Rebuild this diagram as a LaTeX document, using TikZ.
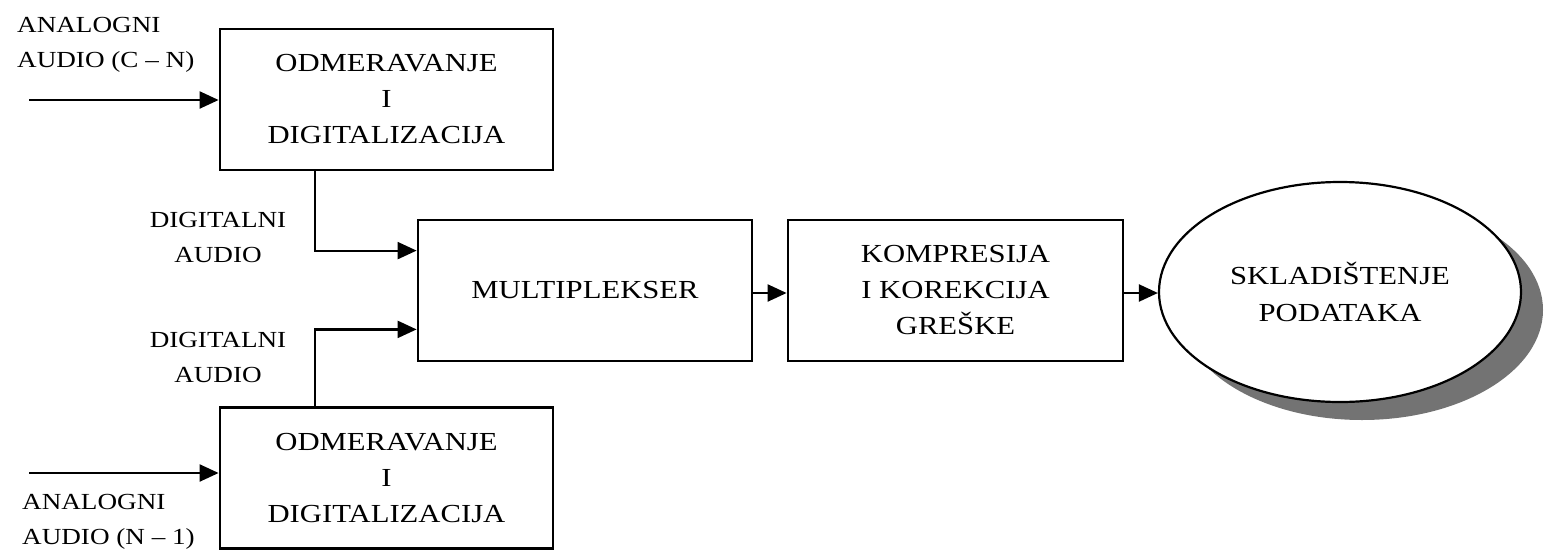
\documentclass[tikz,border=0pt]{standalone}
\usepackage{fontspec}
\setmainfont{Liberation Serif}[FakeStretch=1.18]
\usetikzlibrary{arrows.meta,shapes.geometric,shadows,calc}
\begin{document}
\begin{tikzpicture}[x=1pt,y=-1pt,
  box/.style={draw=black,line width=2.8pt,rectangle,minimum width=333pt,minimum height=141pt,inner sep=0pt,align=center,font=\fontsize{26}{36}\selectfont},
  lbl/.style={inner sep=0pt,font=\fontsize{23}{35}\selectfont},
  arr/.style={draw=black,line width=2.2pt,-{Triangle[length=19pt,width=17pt]}}]
\useasboundingbox (0,0) rectangle (1556,555);
\node[box] (t1) at (386.5,99.5) {ODMERAVANJE\\I\\DIGITALIZACIJA};
\node[box] (t2) at (386.5,478) {ODMERAVANJE\\I\\DIGITALIZACIJA};
\node[box,minimum width=334pt] (mux) at (585,290.5) {MULTIPLEKSER};
\node[box,minimum width=335pt] (komp) at (955.5,290.5) {KOMPRESIJA\\I KOREKCIJA\\GREŠKE};
\node[ellipse,draw=black,line width=2.2pt,fill=white,minimum width=362pt,minimum height=220pt,inner sep=0pt,align=center,font=\fontsize{26}{37}\selectfont,
  drop shadow={shadow xshift=22pt,shadow yshift=-18pt,fill=black!55,opacity=1}] (st) at (1340,292) {SKLADIŠTENJE\\PODATAKA};
\node[lbl,anchor=west,align=left] (la1) at (17,45) {ANALOGNI\\AUDIO (C – N)};
\node[lbl,anchor=west,align=left] (la2) at (22,522) {ANALOGNI\\AUDIO (N – 1)};
\node[lbl,align=center] (ld1) at (218,237) {DIGITALNI\\AUDIO};
\node[lbl,align=center] (ld2) at (218,357) {DIGITALNI\\AUDIO};
\coordinate (in1) at (29,100);
\coordinate (in2) at (29,473);
\coordinate (me) at ([yshift=-2.5pt]mux.east);
\coordinate (ke) at ([yshift=-2.5pt]komp.east);
\draw[arr] (in1) -- (in1 -| t1.west);
\draw[arr] (in2) -- (in2 -| t2.west);
\draw[arr] ([xshift=96pt]t1.south west) |- ([yshift=-32pt]mux.north west);
\draw[arr] ([xshift=96pt]t2.north west) |- ([yshift=33pt]mux.south west);
\draw[arr] (me) -- (me -| komp.west);
\draw[arr] (ke) -- (ke -| st.west);
\end{tikzpicture}
\end{document}
